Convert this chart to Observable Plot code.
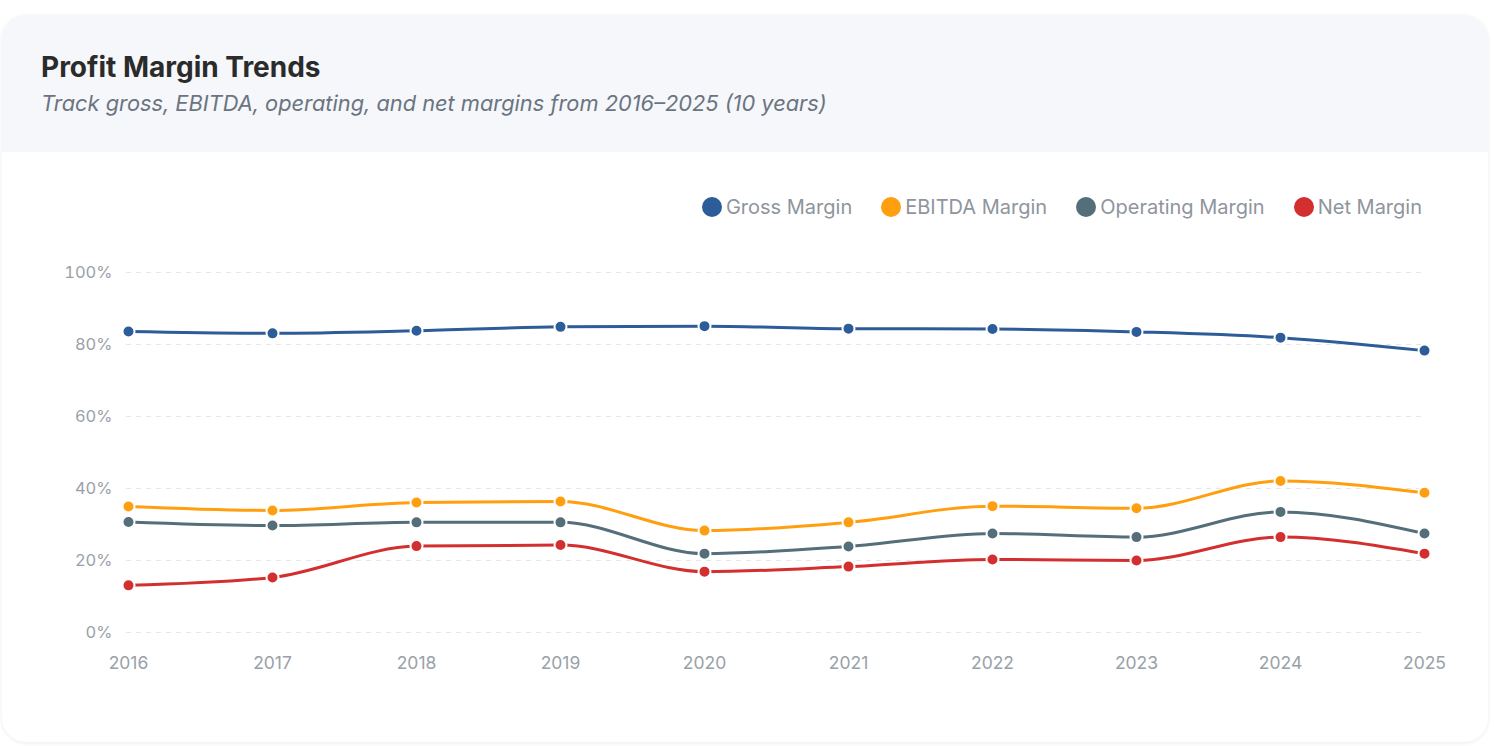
<!DOCTYPE html>
<html>
<head>
<meta charset="utf-8">
<script src="https://cdn.jsdelivr.net/npm/d3@7"></script>
<script src="https://cdn.jsdelivr.net/npm/@observablehq/plot@0.6"></script>
<style>
  html, body { margin: 0; padding: 0; background: #ffffff; font-family: Inter, "Noto Sans", sans-serif; }
  .card { position: absolute; left: 2px; top: 15px; width: 1486px; height: 727px; border-radius: 24px;
          background: #ffffff; box-shadow: 0 1px 4px rgba(0,0,0,0.08); overflow: hidden; }
  .header { background: #f5f7fa; height: 137px; box-sizing: border-box; padding: 35px 0 0 39px; }
  .title { font-size: 28px; font-weight: 700; color: #2b2b2b; line-height: 34px; }
  .subtitle { font-size: 21.8px; font-style: italic; color: #6b7480; margin-top: 5px; line-height: 28px; }
  .legend { position: absolute; top: 180px; right: 66px; display: flex; gap: 29px; align-items: center; }
  .legend .item { display: flex; align-items: center; font-size: 20px; color: #8f959d; }
  .legend .dot { width: 20px; height: 20px; border-radius: 50%; margin-right: 4px; }
  #chart { position: absolute; left: 0; top: 210px; }
</style>
</head>
<body>
<div class="card">
  <div class="header">
    <div class="title">Profit Margin Trends</div>
    <div class="subtitle">Track gross, EBITDA, operating, and net margins from 2016–2025 (10 years)</div>
  </div>
  <div class="legend" id="legend"></div>
  <div id="chart"></div>
</div>
<script>
const years = [2016, 2017, 2018, 2019, 2020, 2021, 2022, 2023, 2024, 2025];
const seriesNames = ["Gross Margin", "EBITDA Margin", "Operating Margin", "Net Margin"];
const seriesColors = ["#2d5d99", "#ff9f0f", "#546e7a", "#d32f2f"];
const grossMargin = [83.6, 83.1, 83.8, 84.9, 85.1, 84.4, 84.3, 83.5, 81.9, 78.3];
const ebitdaMargin = [35.0, 33.9, 36.1, 36.4, 28.3, 30.6, 35.1, 34.5, 42.1, 38.8];
const operatingMargin = [30.7, 29.7, 30.6, 30.6, 21.9, 23.9, 27.5, 26.5, 33.5, 27.5];
const netMargin = [13.1, 15.3, 24.0, 24.3, 16.9, 18.3, 20.3, 20.0, 26.5, 21.9];
const yTicks = [0, 20, 40, 60, 80, 100];

const allSeries = [grossMargin, ebitdaMargin, operatingMargin, netMargin];
const data = [];
seriesNames.forEach((name, i) => {
  years.forEach((yr, j) => data.push({series: name, year: yr, value: allSeries[i][j]}));
});

// legend
const legend = document.getElementById("legend");
seriesNames.forEach((name, i) => {
  const item = document.createElement("div");
  item.className = "item";
  item.innerHTML = `<span class="dot" style="background:${seriesColors[i]}"></span><span>${name}</span>`;
  legend.appendChild(item);
});

const chart = Plot.plot({
  width: 1486,
  height: 460,
  marginTop: 47,
  marginBottom: 53,
  marginLeft: 124,
  marginRight: 62,
  style: {fontFamily: "Inter, 'Noto Sans', sans-serif", fontSize: "16px", color: "#9aa0a8", background: "transparent"},
  x: {type: "point", domain: years, padding: 0, label: null},
  y: {domain: [0, 100], label: null},
  color: {domain: seriesNames, range: seriesColors},
  marks: [
    Plot.ruleY(yTicks, {stroke: "#e3e6ea", strokeDasharray: "5,5", strokeWidth: 1}),
    Plot.axisY(yTicks, {tickSize: 0, tickPadding: 14, tickFormat: d => d + "%", fontSize: 16.5, label: null}),
    Plot.axisX(years, {tickSize: 0, tickPadding: 24, tickFormat: d => String(d), fontSize: 17.5, label: null}),
    Plot.line(data, {x: "year", y: "value", z: "series", stroke: "series", strokeWidth: 3, curve: "monotone-x"}),
    Plot.dot(data, {x: "year", y: "value", fill: "series", stroke: "#ffffff", strokeWidth: 2, r: 6})
  ]
});
document.getElementById("chart").appendChild(chart);
</script>
</body>
</html>
